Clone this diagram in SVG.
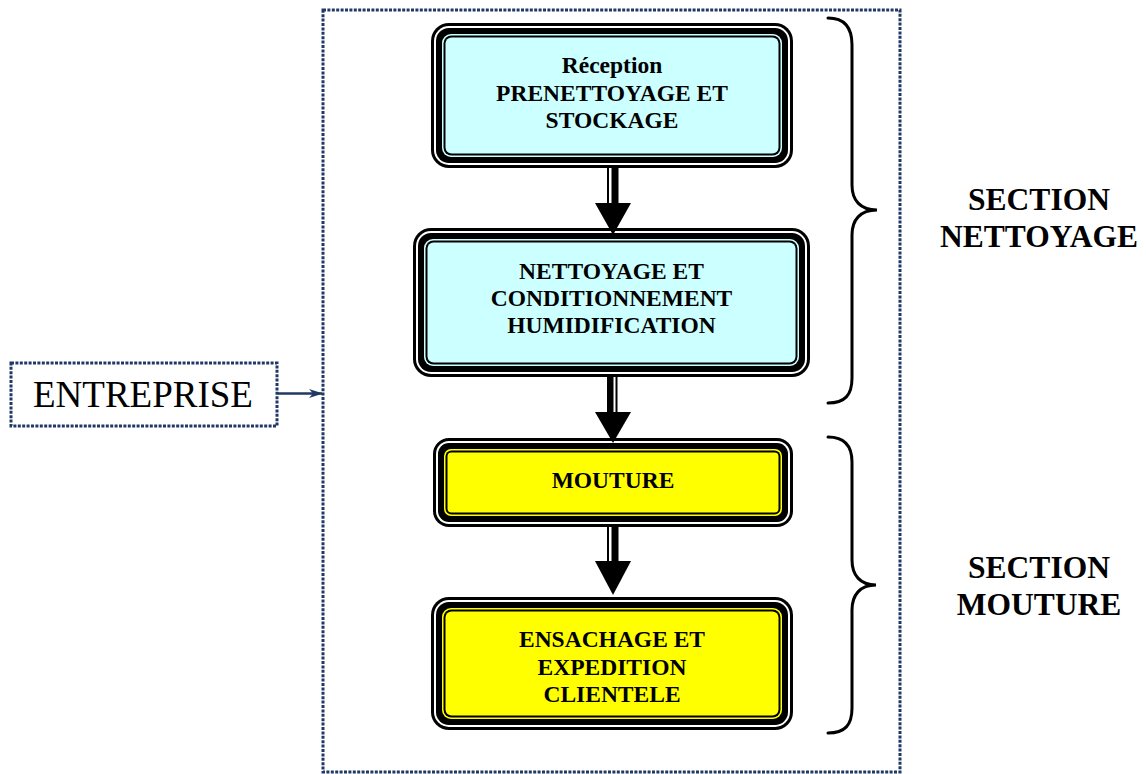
<svg xmlns="http://www.w3.org/2000/svg" width="1146" height="774" viewBox="0 0 1146 774">
<defs>
<style>
.dot{fill:none;stroke:#1F3864;stroke-width:3;stroke-dasharray:3 1.4}
.k{fill:#000}
.w{fill:#fff}
.cy{fill:#CCFFFF}
.ye{fill:#FFFF00}
.t{font-family:"Liberation Serif","Times New Roman",serif;font-weight:bold;font-size:23.5px;fill:#000;text-anchor:middle}
.sec{font-family:"Liberation Serif","Times New Roman",serif;font-weight:bold;font-size:31.5px;fill:#000;text-anchor:middle}
.brace{fill:none;stroke:#000;stroke-width:3;stroke-linecap:round}
</style>
<marker id="navy" viewBox="0 0 14 10" refX="13" refY="5" markerWidth="14" markerHeight="10" markerUnits="userSpaceOnUse" orient="auto">
<path d="M0,0.5 L14,5 L0,9.5 L4,5 Z" fill="#1F3864"/>
</marker>
</defs>
<rect width="1146" height="774" fill="#fff"/>

<rect id="frame" class="dot" x="323" y="10" width="577" height="762"/>

<g id="entreprise">
<rect class="dot" x="11" y="363" width="266" height="63" stroke-width="2.5"/>
<text x="143" y="407" font-family="'Liberation Serif','Times New Roman',serif" font-size="37" text-anchor="middle" fill="#000">ENTREPRISE</text>
</g>

<g id="node1">
<rect class="k" x="431" y="23" width="362" height="145" rx="18"/>
<rect class="w" x="434" y="26" width="356" height="139" rx="15"/>
<rect class="k" x="436" y="28" width="352" height="135" rx="13"/>
<rect class="cy" x="442" y="34" width="340" height="123" rx="9"/>
<rect class="k" x="443.5" y="35.5" width="337" height="120" rx="8"/>
<rect class="cy" x="445.5" y="37.5" width="333" height="116" rx="6"/>
<text class="t" x="612" y="73">Réception</text>
<text class="t" x="612" y="101">PRENETTOYAGE ET</text>
<text class="t" x="612" y="128">STOCKAGE</text>
</g>

<g id="node2">
<rect class="k" x="413" y="228" width="397" height="149" rx="18"/>
<rect class="w" x="416" y="231" width="391" height="143" rx="15"/>
<rect class="k" x="418" y="233" width="387" height="139" rx="13"/>
<rect class="cy" x="424" y="239" width="375" height="127" rx="9"/>
<rect class="k" x="425.5" y="240.5" width="372" height="124" rx="8"/>
<rect class="cy" x="427.5" y="242.5" width="368" height="120" rx="6"/>
<text class="t" x="611.5" y="279">NETTOYAGE ET</text>
<text class="t" x="611.5" y="306">CONDITIONNEMENT</text>
<text class="t" x="611.5" y="333">HUMIDIFICATION</text>
</g>

<g id="node3">
<rect class="k" x="433" y="438" width="360" height="89" rx="16"/>
<rect class="w" x="436" y="441" width="354" height="83" rx="13"/>
<rect class="k" x="438" y="443" width="350" height="79" rx="11"/>
<rect class="ye" x="444" y="449" width="338" height="67" rx="7"/>
<rect class="k" x="445.5" y="450.5" width="335" height="64" rx="6"/>
<rect class="ye" x="447.5" y="452.5" width="331" height="60" rx="4"/>
<text class="t" x="613" y="488">MOUTURE</text>
</g>

<g id="node4">
<rect class="k" x="431" y="597" width="362" height="133" rx="18"/>
<rect class="w" x="434" y="600" width="356" height="127" rx="15"/>
<rect class="k" x="436" y="602" width="352" height="123" rx="13"/>
<rect class="ye" x="442" y="608" width="340" height="111" rx="9"/>
<rect class="k" x="443.5" y="609.5" width="337" height="108" rx="8"/>
<rect class="ye" x="445.5" y="611.5" width="333" height="104" rx="6"/>
<text class="t" x="612" y="647">ENSACHAGE ET</text>
<text class="t" x="612" y="675">EXPEDITION</text>
<text class="t" x="612" y="702">CLIENTELE</text>
</g>

<g id="connectors">
<rect class="k" x="607" y="168" width="2" height="36"/>
<rect class="k" x="611.5" y="168" width="7" height="36"/>
<path class="k" d="M595,203 L631,203 L613,235 Z"/>

<rect class="k" x="607" y="377" width="6.5" height="36"/>
<rect class="k" x="615.5" y="377" width="2" height="36"/>
<path class="k" d="M595,412 L631,412 L613,443 Z"/>

<rect class="k" x="607" y="527" width="2" height="35"/>
<rect class="k" x="611.5" y="527" width="7" height="35"/>
<path class="k" d="M595,561 L631,561 L613,595 Z"/>

<line x1="278" y1="393.5" x2="322" y2="393.5" stroke="#1F3864" stroke-width="2.5" marker-end="url(#navy)"/>
</g>

<g id="brace-nettoyage">
<path class="brace" d="M828,18 C845,18 852,28 852,45 L852,185 C852,200 860,210 877,210 C860,210 852,220 852,235 L852,378 C852,395 845,403 828,403"/>
<text class="sec" x="1039" y="210">SECTION</text>
<text class="sec" x="1039" y="247">NETTOYAGE</text>
</g>

<g id="brace-mouture">
<path class="brace" d="M828,437 C845,437 852,447 852,462 L852,560 C852,575 860,585 876,585 C860,585 852,595 852,610 L852,708 C852,725 845,733 828,733"/>
<text class="sec" x="1039" y="578">SECTION</text>
<text class="sec" x="1039" y="615">MOUTURE</text>
</g>
</svg>
